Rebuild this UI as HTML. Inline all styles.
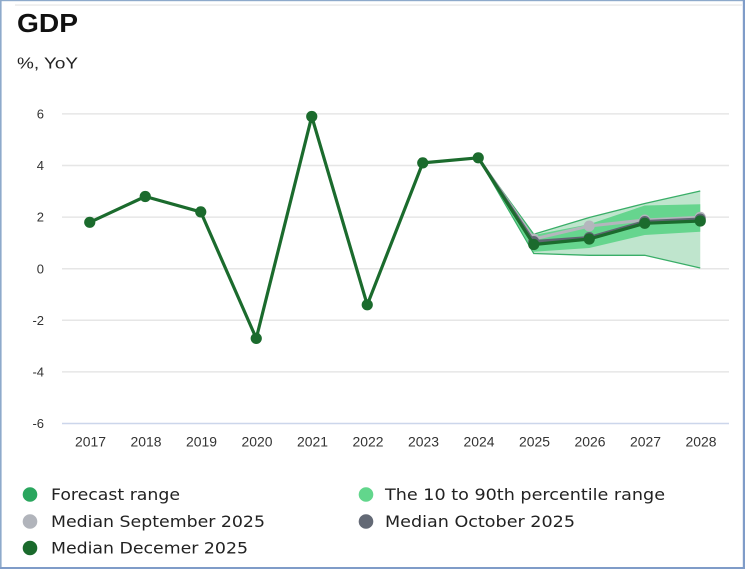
<!DOCTYPE html>
<html><head><meta charset="utf-8"><style>
html,body{margin:0;padding:0;background:#fff;}
svg{display:block;}
</style></head><body>
<svg width="745" height="569" viewBox="0 0 745 569" xmlns="http://www.w3.org/2000/svg">
<rect x="0" y="0" width="745" height="569" fill="#fff"/>
<!-- frame -->
<rect x="0" y="0" width="745" height="1.2" fill="#8eaacb"/>
<rect x="0" y="0" width="1.6" height="569" fill="#8eaacb"/>
<rect x="742.8" y="0" width="2.2" height="569" fill="#7f9cc8"/>
<rect x="0" y="567" width="745" height="2" fill="#7f9cc8"/>
<rect x="15" y="4.3" width="727" height="1.5" fill="#ebebeb"/>

<text x="17" y="32" font-family="Liberation Sans, sans-serif" font-weight="bold" font-size="26" fill="#111" textLength="61" lengthAdjust="spacingAndGlyphs">GDP</text>
<text x="17" y="68.5" font-family="Liberation Sans, sans-serif" font-size="16" fill="#222" textLength="61" lengthAdjust="spacingAndGlyphs">%, YoY</text>

<!-- grid -->
<g stroke="#e6e6e6" stroke-width="1.5">
<line x1="62" y1="113.9" x2="729" y2="113.9"/>
<line x1="62" y1="165.5" x2="729" y2="165.5"/>
<line x1="62" y1="217.1" x2="729" y2="217.1"/>
<line x1="62" y1="268.7" x2="729" y2="268.7"/>
<line x1="62" y1="320.3" x2="729" y2="320.3"/>
<line x1="62" y1="371.9" x2="729" y2="371.9"/>
</g>
<line x1="62" y1="423.5" x2="729" y2="423.5" stroke="#ccd6eb" stroke-width="1.5"/>

<g font-family="Liberation Sans, sans-serif" font-size="13" fill="#333" text-anchor="end">
<text x="44" y="118.5">6</text>
<text x="44" y="170.1">4</text>
<text x="44" y="221.7">2</text>
<text x="44" y="273.3">0</text>
<text x="44" y="324.9">-2</text>
<text x="44" y="376.5">-4</text>
<text x="44" y="428.1">-6</text>
</g>

<g font-family="Liberation Sans, sans-serif" font-size="13.5" fill="#333">
<text x="75" y="446.5" textLength="31" lengthAdjust="spacingAndGlyphs">2017</text>
<text x="130.5" y="446.5" textLength="31" lengthAdjust="spacingAndGlyphs">2018</text>
<text x="186" y="446.5" textLength="31" lengthAdjust="spacingAndGlyphs">2019</text>
<text x="241.5" y="446.5" textLength="31" lengthAdjust="spacingAndGlyphs">2020</text>
<text x="297" y="446.5" textLength="31" lengthAdjust="spacingAndGlyphs">2021</text>
<text x="352.5" y="446.5" textLength="31" lengthAdjust="spacingAndGlyphs">2022</text>
<text x="408" y="446.5" textLength="31" lengthAdjust="spacingAndGlyphs">2023</text>
<text x="463.5" y="446.5" textLength="31" lengthAdjust="spacingAndGlyphs">2024</text>
<text x="519" y="446.5" textLength="31" lengthAdjust="spacingAndGlyphs">2025</text>
<text x="574.5" y="446.5" textLength="31" lengthAdjust="spacingAndGlyphs">2026</text>
<text x="630" y="446.5" textLength="31" lengthAdjust="spacingAndGlyphs">2027</text>
<text x="685.5" y="446.5" textLength="31" lengthAdjust="spacingAndGlyphs">2028</text>
</g>

<!-- forecast range (outer) -->
<polygon points="478.25,157.8 533.75,234.3 589.25,217.5 644.75,203.5 700.25,191 700.25,268 644.75,255.3 589.25,255.3 533.75,253.5" fill="#bfe5cd"/>
<polyline points="478.25,157.8 533.75,234.3 589.25,217.5 644.75,203.5 700.25,191" fill="none" stroke="#3aae68" stroke-width="1.3"/>
<polyline points="478.25,157.8 533.75,253.5 589.25,255.3 644.75,255.3 700.25,268" fill="none" stroke="#3aae68" stroke-width="1.3"/>
<!-- percentile (inner) -->
<polygon points="478.25,157.8 533.75,235 589.25,224.3 644.75,205.5 700.25,204.3 700.25,231.7 644.75,235 589.25,248 533.75,251.7" fill="#66d58e"/>

<!-- Sep median -->
<polyline points="478.25,157.8 533.75,239 589.25,226 644.75,220 700.25,217.3" fill="none" stroke="#b4b6bd" stroke-width="3"/>
<g fill="#b4b6bd"><circle cx="533.75" cy="239" r="5.5"/><circle cx="589.25" cy="226" r="5.5"/><circle cx="644.75" cy="220" r="5.5"/><circle cx="700.25" cy="217.3" r="5.5"/></g>
<!-- Oct median -->
<polyline points="478.25,157.8 533.75,241.5 589.25,237.5 644.75,221.5 700.25,219" fill="none" stroke="#5f6672" stroke-width="3"/>
<g fill="#5f6672"><circle cx="533.75" cy="241.5" r="5.5"/><circle cx="589.25" cy="237.5" r="5.5"/><circle cx="644.75" cy="221.5" r="5.5"/><circle cx="700.25" cy="219" r="5.5"/></g>

<!-- main line -->
<polyline points="89.75,222.3 145.25,196.5 200.75,211.9 256.25,338.4 311.75,116.5 367.25,304.8 422.75,162.9 478.25,157.8 533.75,244.5 589.25,239 644.75,223.3 700.25,221" fill="none" stroke="#1b6b2d" stroke-width="3.2" stroke-linejoin="round"/>
<g fill="#1b6b2d">
<circle cx="89.75" cy="222.3" r="5.6"/>
<circle cx="145.25" cy="196.5" r="5.6"/>
<circle cx="200.75" cy="211.9" r="5.6"/>
<circle cx="256.25" cy="338.4" r="5.6"/>
<circle cx="311.75" cy="116.5" r="5.6"/>
<circle cx="367.25" cy="304.8" r="5.6"/>
<circle cx="422.75" cy="162.9" r="5.6"/>
<circle cx="478.25" cy="157.8" r="5.6"/>
<circle cx="533.75" cy="244.5" r="5.6"/>
<circle cx="589.25" cy="239" r="5.6"/>
<circle cx="644.75" cy="223.3" r="5.6"/>
<circle cx="700.25" cy="221" r="5.6"/>
</g>

<!-- legend -->
<circle cx="30" cy="494.5" r="7.3" fill="#2aa65e"/>
<circle cx="366" cy="494.5" r="7.3" fill="#62d68c"/>
<circle cx="30" cy="521.5" r="7.3" fill="#b1b4bb"/>
<circle cx="366" cy="521.5" r="7.3" fill="#636975"/>
<circle cx="30" cy="548" r="7.3" fill="#1a6a2c"/>
<g font-family="DejaVu Sans, sans-serif" font-size="16" fill="#222">
<text x="51" y="500" textLength="129" lengthAdjust="spacingAndGlyphs">Forecast range</text>
<text x="385" y="500" textLength="280" lengthAdjust="spacingAndGlyphs">The 10 to 90th percentile range</text>
<text x="51" y="527" textLength="214" lengthAdjust="spacingAndGlyphs">Median September 2025</text>
<text x="385" y="527" textLength="190" lengthAdjust="spacingAndGlyphs">Median October 2025</text>
<text x="51" y="553.5" textLength="197" lengthAdjust="spacingAndGlyphs">Median Decemer 2025</text>
</g>
</svg>
</body></html>
